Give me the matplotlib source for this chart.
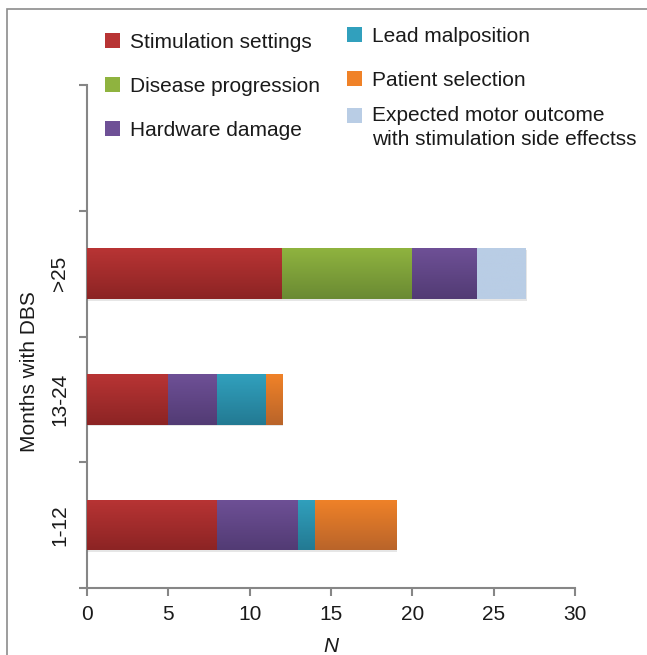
import numpy as np
import matplotlib
matplotlib.use('Agg')
import matplotlib.pyplot as plt
from matplotlib.patches import Rectangle, Patch
from matplotlib.legend_handler import HandlerPatch

plt.rcParams['font.family'] = ['Liberation Sans', 'DejaVu Sans']

# Data
categories = ['1-12', '13-24', '>25', '']
series_names = ['Stimulation settings', 'Disease progression', 'Hardware damage',
                'Lead malposition', 'Patient selection',
                'Expected motor outcome\nwith stimulation side effectss']
stimulation = [8, 5, 12, 0]
disease = [0, 0, 8, 0]
hardware = [5, 3, 4, 0]
lead = [1, 3, 0, 0]
patient = [5, 1, 0, 0]
expected = [0, 0, 3, 0]
x_ticks = [0, 5, 10, 15, 20, 25, 30]

series = [stimulation, disease, hardware, lead, patient, expected]
# (top colour, bottom colour) - Excel style gradient
colours = [('#b83434', '#8c2424'),
           ('#8fb33f', '#6a8a33'),
           ('#6e5096', '#523b74'),
           ('#31a0bd', '#237a93'),
           ('#f08228', '#b9642a'),
           ('#b9cde5', '#b9cde5')]

fig = plt.figure(figsize=(6.47, 6.55), dpi=100)
ax = fig.add_axes([87/647, 1 - 588/655, 488/647, 503/655])

ypos = np.arange(len(categories))
left = np.zeros(len(categories))
handles = []
for vals, name, (ctop, cbot) in zip(series, series_names, colours):
    bars = ax.barh(ypos, vals, left=left, height=0.4, color=ctop, edgecolor='none', zorder=2)
    c1 = np.array(matplotlib.colors.to_rgb(cbot))
    c2 = np.array(matplotlib.colors.to_rgb(ctop))
    t = np.linspace(0, 1, 64)[:, None, None]
    grad = c1 * (1 - t) + c2 * t
    for b in bars:
        if b.get_width() <= 0:
            continue
        x0, y0 = b.get_x(), b.get_y()
        # soft shadow
        ax.add_patch(Rectangle((x0 + 0.05, y0 - 0.015), b.get_width(), b.get_height(),
                               color='#e6e6e6', zorder=1, lw=0))
        im = ax.imshow(grad, extent=[x0, x0 + b.get_width(), y0, y0 + b.get_height()],
                       aspect='auto', origin='lower', zorder=3, interpolation='bilinear')
        im.set_clip_path(b)
    handles.append(Patch(facecolor=ctop, edgecolor='none'))
    left = left + np.array(vals)

ax.set_xlim(0, 30)
ax.set_ylim(-0.5, len(categories) - 0.5)
ax.set_aspect('auto')

axis_col = '#868686'
for s in ['top', 'right']:
    ax.spines[s].set_visible(False)
for s in ['left', 'bottom']:
    ax.spines[s].set_color(axis_col)
    ax.spines[s].set_linewidth(1.5)

ax.set_xticks(x_ticks)
ax.tick_params(axis='x', length=6, width=1.5, color=axis_col, pad=6, labelsize=15, labelcolor='#1a1a1a')

# category boundaries as major ticks, labels at centres as minor ticks
ax.set_yticks(np.arange(-0.5, len(categories), 1.0))
ax.set_yticklabels([])
ax.tick_params(axis='y', which='major', length=6, width=1.5, color=axis_col)
ax.set_yticks(ypos, minor=True)
ax.set_yticklabels(categories, minor=True, rotation=90, va='center', fontsize=15, color='#1a1a1a')
ax.tick_params(axis='y', which='minor', length=0, pad=13)

ax.set_ylabel('Months with DBS', fontsize=15, color='#1a1a1a', va='center')
ax.yaxis.set_label_coords(-0.117, 0.431)
ax.set_xlabel('N', fontsize=15, style='italic', color='#1a1a1a', va='center')
ax.xaxis.set_label_coords(0.5, -0.117)


# legend square aligned with the first line of a two-line label
def top_square(legend, orig_handle, xdescent, ydescent, width, height, fontsize):
    return Rectangle((-xdescent, -ydescent + 8.6), width, height)


leg_kw = dict(loc='upper left', frameon=False, fontsize=15,
              handlelength=0.72, handleheight=0.72, handletextpad=0.48,
              labelspacing=1.19, borderpad=0, borderaxespad=0)
leg1 = fig.legend(handles[:3], series_names[:3], bbox_to_anchor=(105/647, 1 - 33/655), **leg_kw)
leg2 = fig.legend(handles[3:5], series_names[3:5], bbox_to_anchor=(347/647, 1 - 27/655), **leg_kw)
leg3 = fig.legend(handles[5:], series_names[5:], bbox_to_anchor=(347/647, 1 - 106/655),
                  handler_map={handles[5]: HandlerPatch(patch_func=top_square)}, **leg_kw)
for leg in (leg1, leg2, leg3):
    for txt in leg.get_texts():
        txt.set_color('#1a1a1a')
        txt.set_linespacing(1.35)

# chart border
fig.add_artist(Rectangle((7/647, -0.02), 1.02, 1 - 9/655 + 0.02, transform=fig.transFigure,
                         fill=False, edgecolor='#8c8c8c', lw=1.2))

fig.savefig('out.png', dpi=100)
